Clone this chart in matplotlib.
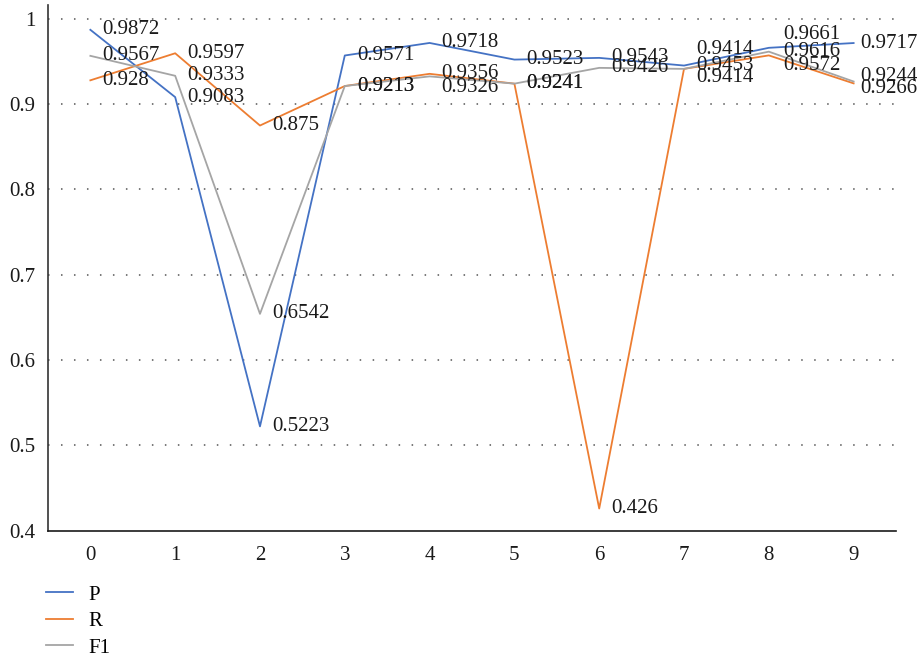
import matplotlib.pyplot as plt

# Scores per run
runs = list(range(10))
precision = [0.9872, 0.9083, 0.5223, 0.9571, 0.9718, 0.9523, 0.9543, 0.9453, 0.9661, 0.9717]
recall = [0.928, 0.9597, 0.875, 0.9213, 0.9356, 0.9241, 0.426, 0.9414, 0.9572, 0.9244]
f1 = [0.9567, 0.9333, 0.6542, 0.9213, 0.9326, 0.9241, 0.9426, 0.9414, 0.9616, 0.9266]

series = [
    ('P', precision, '#4472C4'),
    ('R', recall, '#ED7D31'),
    ('F1', f1, '#A5A5A5'),
]

# label nudges in pixels (dx, dy) where labels would pile up
nudges = {
    ('P', 8): (14, -13),
    ('P', 9): (7, 0),
    ('R', 7): (12, 9),
    ('R', 8): (14, 10),
    ('R', 9): (7, -7),
    ('F1', 4): (12, 11),
    ('F1', 7): (12, -19),
    ('F1', 8): (14, 0),
    ('F1', 9): (7, 7),
}

plt.rcParams['font.family'] = ['Liberation Serif', 'DejaVu Serif']
FS = 15

fig = plt.figure(figsize=(9.19, 6.56), dpi=100)
ax = fig.add_axes([0.0522, 0.191, 0.9228, 0.801])

px = 0.72  # points per pixel at 100 dpi
for name, vals, color in series:
    ax.plot(runs, vals, color=color, linewidth=1.3, label=name, zorder=3)
    for i, v in enumerate(vals):
        dx, dy = nudges.get((name, i), (12, 0))
        ax.annotate(f'{v:g}', (i, v), xytext=(dx * px, -dy * px),
                    textcoords='offset points', ha='left', va='center',
                    fontsize=FS, color='#1a1a1a', zorder=4)

ax.set_xlim(-0.5, 9.5)
ax.set_ylim(0.4, 1.016)
ax.set_xticks(runs)
ax.set_yticks([0.4, 0.5, 0.6, 0.7, 0.8, 0.9, 1.0])
ax.set_yticklabels(['0.4', '0.5', '0.6', '0.7', '0.8', '0.9', '1'])
ax.tick_params(length=0, labelsize=FS, colors='#1a1a1a')
ax.tick_params(axis='x', pad=11)
ax.tick_params(axis='y', pad=9)

for y in [0.5, 0.6, 0.7, 0.8, 0.9, 1.0]:
    ax.axhline(y, color='#555555', linewidth=1.1, linestyle=(0, (1, 7.5)), zorder=1)

for side in ['top', 'right']:
    ax.spines[side].set_visible(False)
ax.spines['left'].set_linewidth(1.2)
ax.spines['bottom'].set_linewidth(1.2)
ax.spines['left'].set_color('#333333')
ax.spines['bottom'].set_color('#1a1a1a')

fig.legend(loc='upper left', bbox_to_anchor=(0.05, 0.108), frameon=False,
           fontsize=FS, handlelength=1.3, handletextpad=0.75,
           labelspacing=0.33, borderaxespad=0, borderpad=0)

fig.savefig('out.png', dpi=100)
